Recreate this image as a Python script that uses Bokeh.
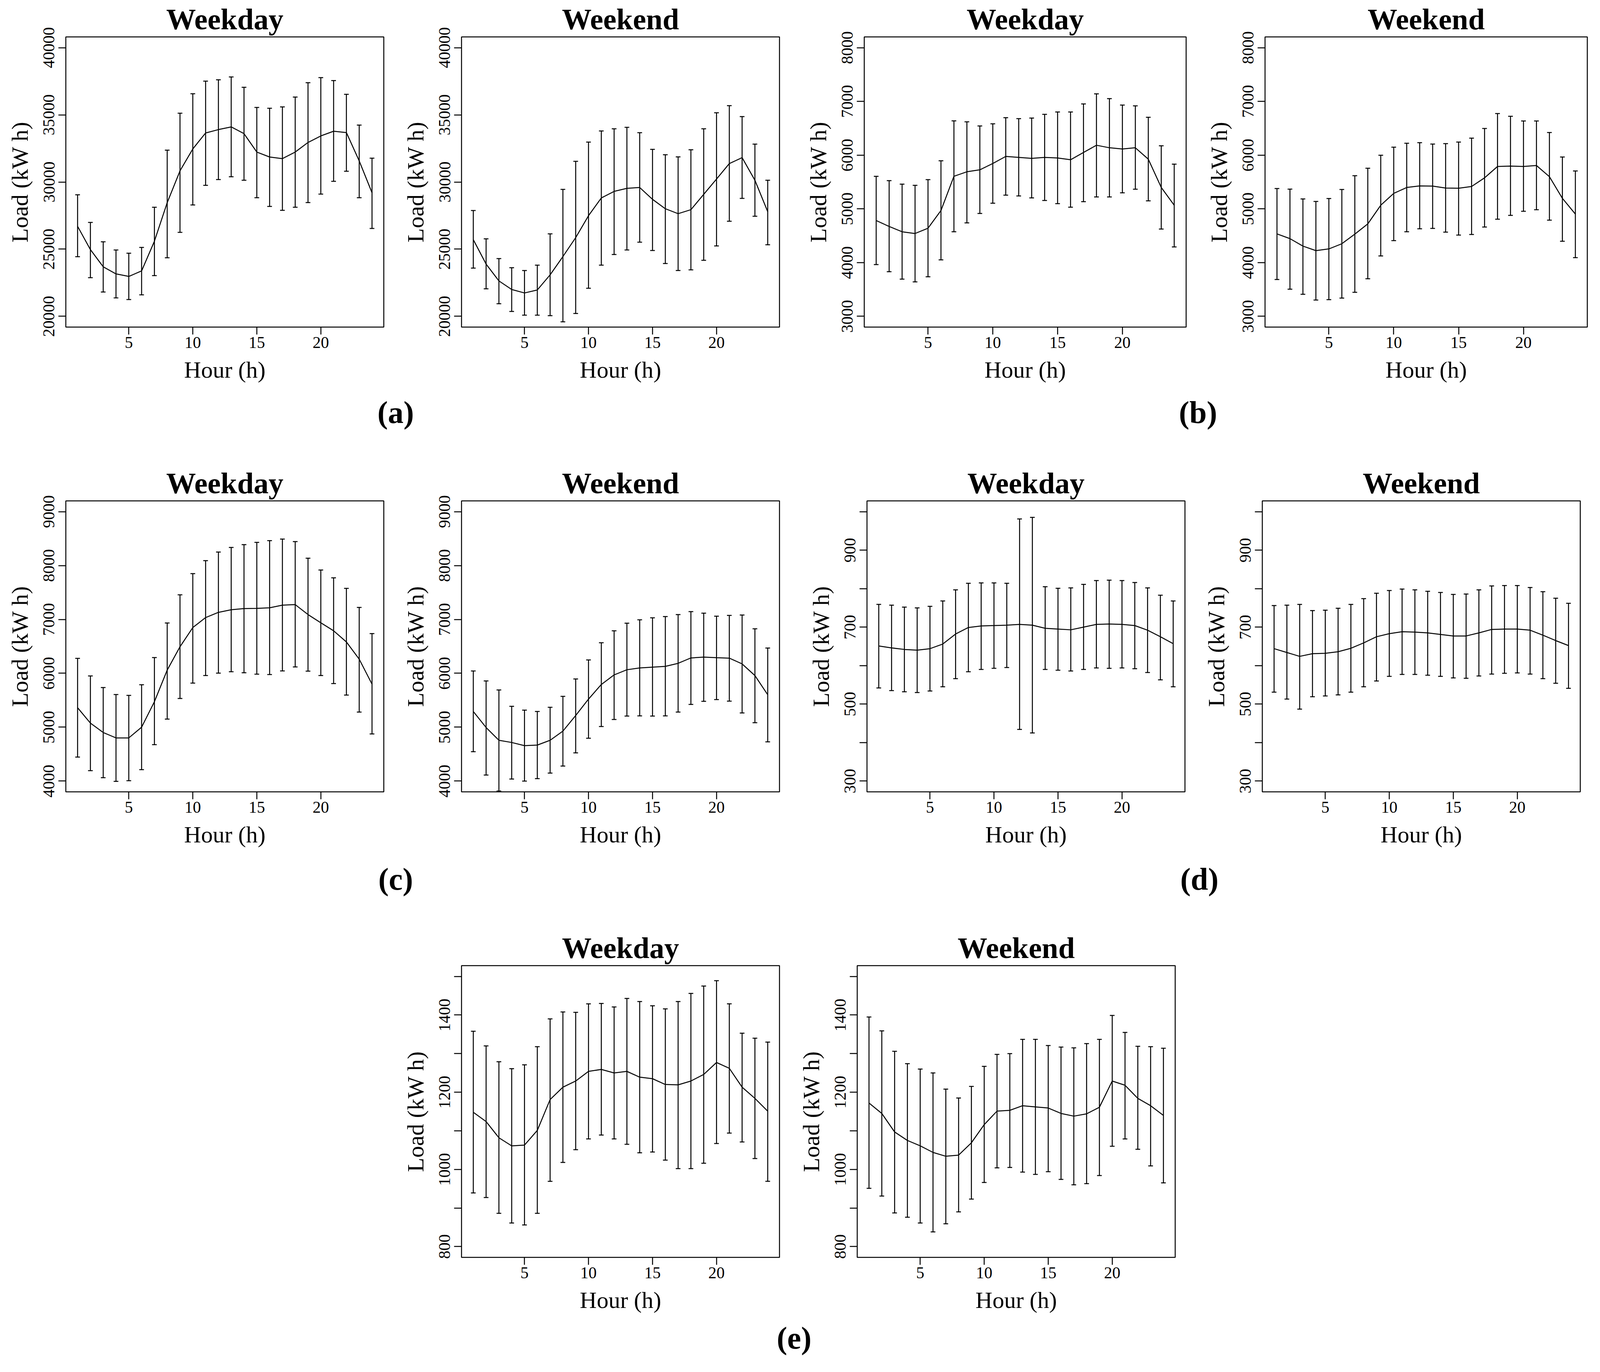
from bokeh.plotting import figure
from bokeh.layouts import row, column
from bokeh.models import Range1d, FixedTicker, Div, Spacer
from bokeh.embed import file_html
from bokeh.resources import INLINE

hours = list(range(1, 25))

# ---- (a) ----
a_wd_mean = [26700, 24970, 23690, 23160, 22970, 23380, 25590, 28460, 30830, 32460, 33650, 33900,
             34100, 33600, 32230, 31860, 31740, 32230, 32940, 33430, 33780, 33680, 31570, 29200]
a_wd_upper = [29050, 26990, 25550, 24940, 24700, 25130, 28120, 32370, 35120, 36570, 37510, 37610,
              37820, 37050, 35550, 35490, 35590, 36320, 37390, 37770, 37550, 36530, 34240, 31770]
a_wd_lower = [24440, 22880, 21810, 21370, 21250, 21600, 23030, 24360, 26250, 28290, 29750, 30180,
              30390, 30130, 28830, 28180, 27890, 28120, 28470, 29100, 30050, 30800, 28830, 26540]
a_we_mean = [25710, 23890, 22640, 22000, 21740, 21960, 23090, 24450, 25860, 27490, 28810, 29300,
             29530, 29590, 28710, 28010, 27640, 27940, 29080, 30220, 31370, 31810, 30130, 27790]
a_we_upper = [27880, 25770, 24300, 23620, 23410, 23810, 26140, 29450, 31540, 32970, 33800, 33960,
              34070, 33670, 32430, 32030, 31870, 32400, 33960, 35150, 35680, 34870, 32820, 30130]
a_we_lower = [23590, 22050, 20940, 20360, 20090, 20090, 20050, 19590, 20210, 22090, 23810, 24600,
              24940, 25520, 24900, 23930, 23410, 23460, 24170, 25240, 27080, 28780, 27450, 25330]
a_yticks = [20000, 25000, 30000, 35000, 40000]
a_ylabels = ["20000", "25000", "30000", "35000", "40000"]

# ---- (b) ----
b_wd_mean = [4783, 4673, 4574, 4541, 4640, 4969, 5606, 5690, 5727, 5844, 5976, 5958,
             5939, 5958, 5947, 5914, 6049, 6184, 6137, 6115, 6137, 5925, 5398, 5068]
b_wd_upper = [5606, 5526, 5460, 5438, 5544, 5895, 6638, 6620, 6543, 6583, 6697, 6679,
              6690, 6759, 6803, 6803, 6953, 7140, 7052, 6931, 6917, 6704, 6174, 5833]
b_wd_lower = [3963, 3831, 3692, 3641, 3736, 4051, 4574, 4739, 4914, 5105, 5255, 5240,
              5204, 5156, 5097, 5031, 5134, 5222, 5222, 5299, 5365, 5149, 4625, 4292]
b_we_mean = [4534, 4446, 4307, 4223, 4255, 4351, 4530, 4720, 5068, 5288, 5398, 5427,
             5423, 5387, 5383, 5416, 5577, 5789, 5797, 5789, 5807, 5599, 5196, 4903]
b_we_upper = [5379, 5368, 5185, 5138, 5193, 5361, 5617, 5756, 5998, 6148, 6221, 6232,
              6206, 6214, 6243, 6316, 6496, 6774, 6723, 6635, 6635, 6422, 5965, 5706]
b_we_lower = [3684, 3505, 3410, 3304, 3311, 3340, 3447, 3699, 4124, 4409, 4574, 4629,
              4636, 4567, 4512, 4523, 4662, 4808, 4878, 4955, 4984, 4790, 4398, 4091]
b_yticks = [3000, 4000, 5000, 6000, 7000, 8000]
b_ylabels = ["3000", "4000", "5000", "6000", "7000", "8000"]

# ---- (c) ----
c_wd_mean = [5361, 5076, 4901, 4801, 4801, 5000, 5473, 6059, 6493, 6849, 7034, 7131,
             7179, 7201, 7205, 7216, 7264, 7275, 7090, 6938, 6789, 6582, 6263, 5799]
c_wd_upper = [6277, 5951, 5736, 5606, 5591, 5788, 6292, 6934, 7457, 7850, 8091, 8251,
              8336, 8388, 8429, 8462, 8492, 8444, 8136, 7917, 7772, 7576, 7223, 6737]
c_wd_lower = [4445, 4193, 4063, 3993, 4007, 4211, 4675, 5150, 5532, 5818, 5958, 6003,
              6029, 6010, 5984, 5977, 6044, 6118, 6040, 5958, 5810, 5595, 5280, 4875]
c_we_mean = [5291, 4994, 4757, 4716, 4657, 4668, 4757, 4927, 5217, 5521, 5792, 5970,
             6066, 6099, 6114, 6129, 6185, 6285, 6300, 6289, 6281, 6174, 5958, 5602]
c_we_upper = [6044, 5858, 5691, 5387, 5317, 5291, 5369, 5573, 5895, 6248, 6567, 6789,
              6930, 6993, 7030, 7053, 7090, 7145, 7116, 7060, 7075, 7082, 6826, 6470]
c_we_lower = [4545, 4111, 3815, 4037, 4000, 4045, 4148, 4278, 4523, 4794, 5013, 5142,
              5206, 5210, 5206, 5210, 5280, 5421, 5480, 5513, 5484, 5265, 5083, 4727]
c_yticks = [4000, 5000, 6000, 7000, 8000, 9000]
c_ylabels = ["4000", "5000", "6000", "7000", "8000", "9000"]

# ---- (d) ----
d_wd_mean = [651, 646, 642, 640, 644, 656, 682, 699, 703, 704, 705, 707,
             705, 697, 695, 693, 700, 707, 708, 707, 704, 692, 675, 657]
d_wd_upper = [759, 757, 752, 750, 754, 768, 797, 814, 815, 815, 814, 981,
              985, 805, 801, 802, 811, 821, 822, 821, 816, 802, 783, 768]
d_wd_lower = [542, 535, 532, 530, 534, 545, 566, 584, 590, 593, 595, 434,
              425, 590, 588, 586, 590, 594, 593, 594, 592, 582, 563, 545]
d_we_mean = [644, 634, 624, 631, 632, 636, 645, 659, 675, 683, 688, 687,
             685, 681, 677, 677, 685, 694, 695, 695, 692, 679, 665, 652]
d_we_upper = [756, 757, 759, 743, 744, 749, 759, 774, 788, 795, 799, 797,
              793, 790, 785, 786, 797, 807, 808, 808, 803, 792, 775, 762]
d_we_lower = [531, 513, 487, 519, 521, 524, 531, 545, 560, 572, 577, 577,
              575, 572, 568, 567, 573, 578, 580, 581, 578, 566, 554, 541]
d_yticks = [300, 400, 500, 600, 700, 800, 900, 1000]
d_ylabels = ["300", "", "500", "", "700", "", "900", ""]

# ---- (e) ----
e_wd_mean = [1148, 1124, 1082, 1061, 1063, 1101, 1181, 1213, 1229, 1254, 1259, 1250,
             1254, 1239, 1235, 1220, 1219, 1229, 1246, 1277, 1262, 1213, 1184, 1151]
e_wd_upper = [1358, 1320, 1279, 1261, 1271, 1318, 1390, 1408, 1407, 1429, 1430, 1421,
              1443, 1435, 1424, 1416, 1435, 1456, 1475, 1489, 1429, 1353, 1340, 1330]
e_wd_lower = [939, 927, 886, 861, 856, 886, 969, 1018, 1051, 1079, 1089, 1079,
              1065, 1043, 1045, 1024, 1002, 1002, 1016, 1067, 1094, 1071, 1028, 969]
e_we_mean = [1172, 1145, 1097, 1075, 1061, 1044, 1034, 1037, 1069, 1116, 1151, 1153,
             1165, 1162, 1159, 1145, 1138, 1144, 1161, 1229, 1218, 1184, 1165, 1140]
e_we_upper = [1395, 1359, 1306, 1274, 1260, 1250, 1208, 1185, 1215, 1267, 1298, 1300,
              1337, 1337, 1321, 1317, 1315, 1326, 1337, 1399, 1355, 1319, 1318, 1314]
e_we_lower = [951, 931, 887, 876, 861, 838, 859, 890, 923, 966, 1004, 1005,
              993, 987, 994, 974, 960, 963, 984, 1060, 1079, 1052, 1009, 965]
e_yticks = [800, 900, 1000, 1100, 1200, 1300, 1400, 1500]
e_ylabels = ["800", "", "1000", "", "1200", "", "1400", ""]

x_ticks = [5, 10, 15, 20]
x_label = "Hour (h)"
y_label = "Load (kW h)"

FONT = "Liberation Serif"
LW = 2.5


def rng(ticks):
    lo, hi = min(ticks), max(ticks)
    pad = 0.04 * (hi - lo)
    return Range1d(lo - pad, hi + pad)


def panel(title, mean, upper, lower, yticks, ylabels, fw, fh, left, right, top, bottom):
    p = figure(width=left + fw + right, height=top + fh + bottom,
               output_backend="svg", toolbar_location=None,
               x_range=Range1d(1 - 0.04 * 23, 24 + 0.04 * 23), y_range=rng(yticks),
               min_border_left=left, min_border_right=right,
               min_border_top=top, min_border_bottom=bottom)
    p.title.text = title
    p.title.align = "center"
    p.title.text_font = FONT
    p.title.text_font_style = "bold"
    p.title.text_font_size = "76px"
    p.title.text_color = "black"
    p.title.standoff = 8
    p.outline_line_color = "black"
    p.outline_line_width = LW
    p.outline_line_alpha = 1.0
    p.background_fill_color = "white"
    p.border_fill_color = "white"
    p.xgrid.grid_line_color = None
    p.ygrid.grid_line_color = None

    for ax in (p.xaxis[0], p.yaxis[0]):
        ax.axis_line_color = None
        ax.major_tick_line_width = LW
        ax.major_tick_line_color = "black"
        ax.major_tick_out = 19
        ax.major_tick_in = 0
        ax.minor_tick_line_color = None
        ax.major_label_text_font = FONT
        ax.major_label_text_font_size = "42px"
        ax.major_label_text_color = "black"
        ax.axis_label_text_font = FONT
        ax.axis_label_text_font_size = "60px"
        ax.axis_label_text_font_style = "normal"
        ax.axis_label_text_color = "black"

    p.xaxis.ticker = FixedTicker(ticks=x_ticks)
    p.xaxis.axis_label = x_label
    p.xaxis.major_label_standoff = 6
    p.xaxis.axis_label_standoff = 20

    p.yaxis.ticker = FixedTicker(ticks=yticks)
    p.yaxis.major_label_overrides = {t: l for t, l in zip(yticks, ylabels)}
    p.yaxis.major_label_orientation = "vertical"
    p.yaxis.axis_label = y_label
    p.yaxis.major_label_standoff = 10
    p.yaxis.axis_label_standoff = 25

    p.segment(x0=hours, y0=lower, x1=hours, y1=upper, line_color="black", line_width=LW)
    p.scatter(x=hours, y=upper, marker="dash", size=12, line_color="black", line_width=LW)
    p.scatter(x=hours, y=lower, marker="dash", size=12, line_color="black", line_width=LW)
    p.line(x=hours, y=mean, line_color="black", line_width=LW)
    return p


def label(text, width, height):
    return Div(text=('<div style="width:%dpx;height:%dpx;text-align:center;font-family:\'%s\';'
                     'font-weight:bold;font-size:80px;line-height:%dpx;color:black;">%s</div>')
               % (width, height, FONT, height - 22, text),
               width=width, height=height, margin=0)


a1 = panel("Weekday", a_wd_mean, a_wd_upper, a_wd_lower, a_yticks, a_ylabels, 814, 745, 168, 31, 92, 175)
a2 = panel("Weekend", a_we_mean, a_we_upper, a_we_lower, a_yticks, a_ylabels, 814, 745, 168, 31, 92, 175)
b1 = panel("Weekday", b_wd_mean, b_wd_upper, b_wd_lower, b_yticks, b_ylabels, 824, 755, 168, 34, 87, 170)
b2 = panel("Weekend", b_we_mean, b_we_upper, b_we_lower, b_yticks, b_ylabels, 825, 755, 168, 27, 87, 170)

c1 = panel("Weekday", c_wd_mean, c_wd_upper, c_wd_lower, c_yticks, c_ylabels, 814, 745, 168, 31, 160, 180)
c2 = panel("Weekend", c_we_mean, c_we_upper, c_we_lower, c_yticks, c_ylabels, 814, 745, 168, 31, 160, 180)
d1 = panel("Weekday", d_wd_mean, d_wd_upper, d_wd_lower, d_yticks, d_ylabels, 814, 745, 168, 30, 160, 180)
d2 = panel("Weekend", d_we_mean, d_we_upper, d_we_lower, d_yticks, d_ylabels, 814, 745, 168, 45, 160, 180)

e1 = panel("Weekday", e_wd_mean, e_wd_upper, e_wd_lower, e_yticks, e_ylabels, 814, 747, 168, 31, 155, 168)
e2 = panel("Weekend", e_we_mean, e_we_upper, e_we_lower, e_yticks, e_ylabels, 814, 747, 168, 45, 155, 168)

row1 = row(a1, a2, Spacer(width=18, height=10), b1, b2)
lab1 = row(label("(a)", 2026, 110), Spacer(width=18, height=110), label("(b)", 2046, 110))
row2 = row(c1, c2, Spacer(width=25, height=10), d1, d2)
lab2 = row(label("(c)", 2026, 110), Spacer(width=25, height=110), label("(d)", 2039, 110))
row3 = row(Spacer(width=1013, height=10), e1, e2)
lab3 = row(Spacer(width=1013, height=100), label("(e)", 2040, 100))

layout = column(row1, lab1, row2, lab2, row3, lab3)

open("out.html", "w").write(file_html(layout, INLINE))
